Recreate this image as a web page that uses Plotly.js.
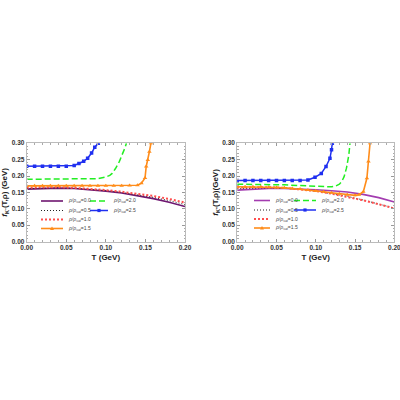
<!DOCTYPE html>
<html><head><meta charset="utf-8">
<script src="https://cdn.plot.ly/plotly-3.0.1.min.js"></script>
<style>html,body{margin:0;padding:0;background:#fff}#c{width:400px;height:400px}</style>
</head><body><div id="c"></div>
<script>
// ---------- data ----------
const densityLabels = ["0.0", "0.5", "1.0", "1.5", "2.0", "2.5"];
const T_grid = [0, 0.02, 0.04, 0.06, 0.08, 0.10, 0.12, 0.14, 0.16, 0.18, 0.20];

// Left panel (K-)
const L_rho00 = [0.160, 0.162, 0.163, 0.162, 0.159, 0.154, 0.148, 0.140, 0.131, 0.120, 0.107];
const L_rho05 = [0.162, 0.164, 0.164, 0.163, 0.160, 0.156, 0.150, 0.143, 0.135, 0.125, 0.113];
const L_rho10 = [0.165, 0.166, 0.166, 0.164, 0.161, 0.157, 0.152, 0.146, 0.139, 0.130, 0.119];
const L_T15 = [0, 0.01, 0.02, 0.03, 0.04, 0.05, 0.06, 0.07, 0.08, 0.09, 0.10, 0.11, 0.12, 0.13, 0.14, 0.145, 0.1495, 0.151, 0.153, 0.155, 0.157];
const L_rho15 = [0.170, 0.170, 0.170, 0.170, 0.170, 0.170, 0.170, 0.170, 0.170, 0.170, 0.170, 0.170, 0.170, 0.171, 0.172, 0.178, 0.194, 0.229, 0.249, 0.274, 0.300];
const L_T20 = [0, 0.02, 0.04, 0.06, 0.08, 0.09, 0.10, 0.105, 0.108, 0.112, 0.117, 0.121, 0.124, 0.126];
const L_rho20 = [0.190, 0.190, 0.190, 0.190, 0.190, 0.192, 0.197, 0.202, 0.208, 0.222, 0.244, 0.265, 0.285, 0.300];
const L_T25 = [0, 0.01, 0.02, 0.03, 0.04, 0.05, 0.06, 0.066, 0.072, 0.077, 0.082, 0.086, 0.0905];
const L_rho25 = [0.230, 0.230, 0.230, 0.230, 0.230, 0.230, 0.232, 0.238, 0.245, 0.254, 0.270, 0.288, 0.300];

// Right panel (K+)
const R_rho00 = [0.157, 0.160, 0.162, 0.162, 0.161, 0.158, 0.155, 0.151, 0.144, 0.134, 0.121];
const R_rho05 = [0.161, 0.163, 0.164, 0.163, 0.160, 0.154, 0.147, 0.138, 0.127, 0.115, 0.102];
const R_rho10 = [0.165, 0.166, 0.166, 0.164, 0.160, 0.154, 0.146, 0.137, 0.126, 0.114, 0.101];
const R_T15 = [0, 0.01, 0.02, 0.03, 0.04, 0.05, 0.06, 0.07, 0.08, 0.09, 0.10, 0.11, 0.12, 0.13, 0.14, 0.15, 0.155, 0.1605, 0.165, 0.167, 0.169];
const R_rho15 = [0.167, 0.167, 0.167, 0.167, 0.166, 0.165, 0.164, 0.162, 0.160, 0.157, 0.155, 0.152, 0.149, 0.146, 0.143, 0.141, 0.143, 0.152, 0.193, 0.244, 0.300];
const R_T20 = [0, 0.02, 0.04, 0.06, 0.08, 0.10, 0.12, 0.125, 0.13, 0.133, 0.136, 0.139, 0.142, 0.1435];
const R_rho20 = [0.175, 0.175, 0.174, 0.173, 0.171, 0.168, 0.167, 0.169, 0.175, 0.183, 0.198, 0.224, 0.264, 0.300];
const R_T25 = [0, 0.01, 0.02, 0.03, 0.04, 0.05, 0.06, 0.07, 0.08, 0.09, 0.099, 0.107, 0.113, 0.118, 0.120, 0.121];
const R_rho25 = [0.186, 0.186, 0.186, 0.186, 0.186, 0.186, 0.186, 0.186, 0.186, 0.188, 0.196, 0.208, 0.229, 0.254, 0.280, 0.300];

const xTickVals = [0, 0.05, 0.10, 0.15, 0.20];
const yTickVals = [0, 0.05, 0.10, 0.15, 0.20, 0.25, 0.30];

// ---------- styles ----------
const styles = [
  {color: "#6e1670", width: 1.6, dash: "solid"},                // 0.0 (left)
  {color: "#222222", width: 1.0, dash: "1px,2px"},              // 0.5
  {color: "#ff4d4d", width: 2.0, dash: "2px,2px"},              // 1.0
  {color: "#ff8c1a", width: 1.6, dash: "solid", sym: "triangle-up"}, // 1.5
  {color: "#22ee22", width: 1.5, dash: "6px,3px"},              // 2.0
  {color: "#1f2ff0", width: 1.5, dash: "solid", sym: "square"}  // 2.5
];
const purpleRight = "#a33cb0";

function tr(x, y, s, xa, ya, colorOverride) {
  const t = {x: x, y: y, xaxis: xa, yaxis: ya, type: "scatter", mode: s.sym ? "lines+markers" : "lines",
    line: {color: colorOverride || s.color, width: s.width, dash: s.dash}, hoverinfo: "skip"};
  if (s.sym) t.marker = {symbol: s.sym, size: s.sym === "square" ? 3.5 : 4, color: s.color};
  return t;
}

const data = [
  tr(T_grid, L_rho00, styles[0], "x", "y"),
  tr(T_grid, L_rho05, styles[1], "x", "y"),
  tr(T_grid, L_rho10, styles[2], "x", "y"),
  tr(L_T15, L_rho15, styles[3], "x", "y"),
  tr(L_T20, L_rho20, styles[4], "x", "y"),
  tr(L_T25, L_rho25, styles[5], "x", "y"),
  tr(T_grid, R_rho00, styles[0], "x2", "y2", purpleRight),
  tr(T_grid, R_rho05, styles[1], "x2", "y2"),
  tr(T_grid, R_rho10, styles[2], "x2", "y2"),
  tr(R_T15, R_rho15, styles[3], "x2", "y2"),
  tr(R_T20, R_rho20, styles[4], "x2", "y2"),
  tr(R_T25, R_rho25, styles[5], "x2", "y2")
];

// ---------- axes ----------
const tickFont = {family: "Liberation Sans, Arial, sans-serif", size: 6.5, color: "#333", weight: "bold"};
const titleFont = {family: "Liberation Sans, Arial, sans-serif", size: 8, color: "#222", weight: "bold"};
function xax(domain, anchor) {
  return {domain: domain, anchor: anchor, range: [0, 0.2], tickvals: xTickVals, tickformat: ".2f",
    ticks: "inside", ticklen: 3, tickcolor: "#999", showline: true, linecolor: "#bbb", linewidth: 1, mirror: "allticks",
    showgrid: false, zeroline: false, tickfont: tickFont, ticklabeloverflow: "allow",
    minor: {dtick: 0.01, ticks: "inside", ticklen: 1.5, tickcolor: "#aaa"},
    title: {text: "T (GeV)", font: titleFont, standoff: 3}};
}
function yax(domain, anchor, title) {
  return {domain: domain, anchor: anchor, range: [0, 0.3], tickvals: yTickVals, tickformat: ".2f",
    ticks: "inside", ticklen: 3, tickcolor: "#999", showline: true, linecolor: "#bbb", linewidth: 1, mirror: "allticks",
    showgrid: false, zeroline: false, tickfont: tickFont, ticklabeloverflow: "allow",
    minor: {dtick: 0.01, ticks: "inside", ticklen: 1.5, tickcolor: "#aaa"},
    title: {text: title, font: titleFont, standoff: 2}};
}

// ---------- hand-drawn compact legends (paper coords from pixels) ----------
const shapes = [], annotations = [];
const px = v => v / 400, py = v => 1 - v / 400;
function legendItem(x0, x1, yPix, s, label, colorOverride) {
  shapes.push({type: "line", xref: "paper", yref: "paper", x0: px(x0), x1: px(x1), y0: py(yPix), y1: py(yPix),
    line: {color: colorOverride || s.color, width: s.width, dash: s.dash}});
  const xm = (x0 + x1) / 2;
  if (s.sym === "square") {
    shapes.push({type: "rect", xref: "paper", yref: "paper", x0: px(xm - 1.6), x1: px(xm + 1.6), y0: py(yPix - 1.6), y1: py(yPix + 1.6),
      fillcolor: s.color, line: {width: 0}});
  } else if (s.sym === "triangle-up") {
    shapes.push({type: "path", xref: "paper", yref: "paper",
      path: `M ${px(xm - 2)} ${py(yPix + 1.6)} L ${px(xm + 2)} ${py(yPix + 1.6)} L ${px(xm)} ${py(yPix - 2)} Z`,
      fillcolor: s.color, line: {width: 0}});
  }
  annotations.push({xref: "paper", yref: "paper", x: px(x1 + 3), y: py(yPix), xanchor: "left", yanchor: "middle",
    showarrow: false, text: "<i>ρ/ρ<sub>sat</sub></i>=" + label,
    font: {family: "Liberation Sans, Arial, sans-serif", size: 5, color: "#444"}});
}
const rowsL = [201, 210.5, 219.5, 228.5];
// left panel legend
for (let i = 0; i < 4; i++) legendItem(41, 63, rowsL[i], styles[i], densityLabels[i]);
legendItem(90, 108, rowsL[0], styles[4], densityLabels[4]);
legendItem(90, 108, rowsL[1], styles[5], densityLabels[5]);
// right panel legend
for (let i = 0; i < 4; i++) legendItem(254, 270, rowsL[i] - 0.5, styles[i], densityLabels[i], i === 0 ? purpleRight : null);
legendItem(294, 316, rowsL[0] - 0.5, styles[4], densityLabels[4]);
legendItem(294, 316, rowsL[1] - 0.5, styles[5], densityLabels[5]);

const layout = {
  width: 400, height: 400, margin: {l: 0, r: 0, t: 0, b: 0},
  paper_bgcolor: "#fff", plot_bgcolor: "#fff", showlegend: false,
  xaxis: xax([0.0667, 0.4625], "y"),
  yaxis: yax([0.396, 0.642], "x", "<i>f</i><sub>K⁻</sub>(T,ρ) (GeV)"),
  xaxis2: xax([0.593, 0.986], "y2"),
  yaxis2: yax([0.396, 0.642], "x2", "<i>f</i><sub>K⁺</sub>(T,ρ)(GeV)"),
  shapes: shapes, annotations: annotations
};
Plotly.newPlot("c", data, layout, {displayModeBar: false, staticPlot: true});
</script></body></html>
